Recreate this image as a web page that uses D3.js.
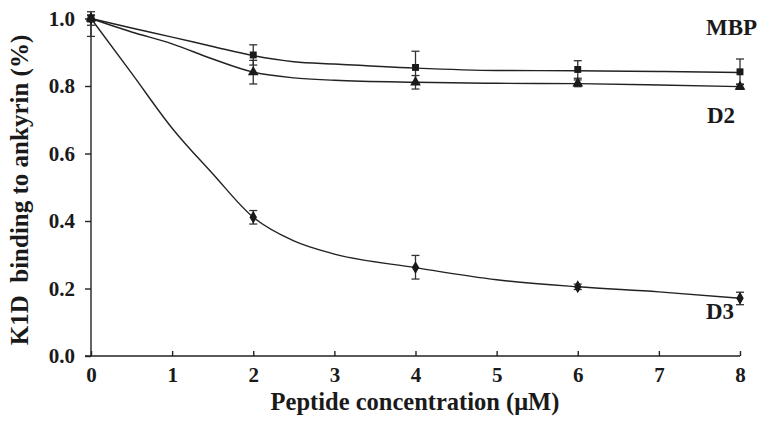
<!DOCTYPE html>
<html><head><meta charset="utf-8">
<script src="https://cdn.jsdelivr.net/npm/d3@7"></script>
<style>body{margin:0;background:#fff}svg{display:block}text{font-family:"Liberation Serif","Times New Roman",serif;font-weight:bold;fill:#1a1a1a}</style>
</head><body><svg id="c" width="764" height="430"></svg>
<script>
const xTicks = [0,1,2,3,4,5,6,7,8];
const yTicks = [0.0,0.2,0.4,0.6,0.8,1.0];
const conc = [0,2,4,6,8];
const seriesNames = ["MBP","D2","D3"];
const mbpVals = [1.0,0.892,0.855,0.849,0.842];
const mbpErrHi = [0.01,0.03,0.048,0.026,0.038];
const mbpErrLo = [0.01,0.03,0.048,0.026,0.038];
const d2Vals = [1.0,0.841,0.811,0.808,0.798];
const d2ErrHi = [0.02,0.035,0.02,0.01,0.008];
const d2ErrLo = [0.02,0.035,0.02,0.01,0.008];
const d3Vals = [1.0,0.411,0.262,0.205,0.171];
const d3ErrHi = [0.01,0.02,0.036,0.008,0.018];
const d3ErrLo = [0.053,0.02,0.034,0.008,0.019];
// fitted curves
const fitX = [0,0.5,1,1.5,2,2.5,3,4,5,6,7,8];
const mbpFit = [1.0,0.972,0.945,0.917,0.89,0.872,0.865,0.853,0.846,0.845,0.843,0.84];
const d2Fit = [1.0,0.96,0.925,0.88,0.841,0.824,0.817,0.811,0.808,0.807,0.803,0.798];
const d3Fit = [1.0,0.838,0.675,0.54,0.411,0.341,0.302,0.262,0.226,0.205,0.19,0.171];

const svg = d3.select("#c");
const x = d3.scaleLinear().domain([0,8]).range([91,740]);
const y = d3.scaleLinear().domain([0,1]).range([356,18.5]);
const ink = "#222";
const tickFont = 21;

// axes
const xAxis = svg.append("g").attr("transform",`translate(0,${y(0)})`)
  .call(d3.axisBottom(x).tickValues(xTicks).tickSize(-5).tickPadding(11).tickFormat(d3.format("d")));
xAxis.select(".domain").attr("d",`M${x(0)-6},0H${x(8)}`);
const yAxis = svg.append("g").attr("transform",`translate(${x(0)},0)`)
  .call(d3.axisLeft(y).tickValues(yTicks).tickSize(6).tickPadding(10).tickFormat(d3.format(".1f")));
yAxis.select(".domain").attr("d",`M0,${y(0)}V${y(1)-2}`);
svg.selectAll(".domain,.tick line").attr("stroke",ink).attr("stroke-width",1.4);
svg.selectAll(".tick text").attr("font-size",tickFont).attr("font-family","Liberation Serif").attr("font-weight","bold").attr("fill","#1a1a1a");

// titles
svg.append("text").attr("x",415).attr("y",410).attr("text-anchor","middle").attr("font-size",24.5)
  .text("Peptide concentration (\u03bcM)");
svg.append("text").attr("transform","translate(28,190) rotate(-90)").attr("text-anchor","middle").attr("font-size",25)
  .style("white-space","pre").text("K1D  binding to ankyrin (%)");

const line = d3.line().x((d,i)=>x(fitX[i])).y(d=>y(d)).curve(d3.curveMonotoneX);
[mbpFit,d2Fit,d3Fit].forEach(f=>{
  svg.append("path").attr("d",line(f)).attr("fill","none").attr("stroke",ink).attr("stroke-width",1.4);
});

function errorBars(vals,hi,lo){
  const g = svg.append("g").attr("stroke","#333").attr("stroke-width",1.3);
  vals.forEach((v,i)=>{
    const cx = x(conc[i]), t = y(v+hi[i]), b = y(v-lo[i]);
    g.append("line").attr("x1",cx).attr("x2",cx).attr("y1",t).attr("y2",b);
    g.append("line").attr("x1",cx-4).attr("x2",cx+4).attr("y1",t).attr("y2",t);
    g.append("line").attr("x1",cx-4).attr("x2",cx+4).attr("y1",b).attr("y2",b);
  });
}
errorBars(mbpVals,mbpErrHi,mbpErrLo);
errorBars(d2Vals,d2ErrHi,d2ErrLo);
errorBars(d3Vals,d3ErrHi,d3ErrLo);

const sym = [d3.symbolSquare,d3.symbolTriangle,d3.symbolDiamond];
const sizes = [48,50,48];
[mbpVals,d2Vals,d3Vals].forEach((vals,k)=>{
  svg.append("g").selectAll("path").data(vals).join("path")
    .attr("transform",(d,i)=>`translate(${x(conc[i])},${y(d)})`)
    .attr("d",d3.symbol().type(sym[k]).size(sizes[k])).attr("fill","#1a1a1a");
});

// series labels
const labelPos = [[706,35],[707,123],[706,319]];
seriesNames.forEach((n,i)=>{
  svg.append("text").attr("x",labelPos[i][0]).attr("y",labelPos[i][1]).attr("font-size",23).text(n);
});
</script></body></html>
